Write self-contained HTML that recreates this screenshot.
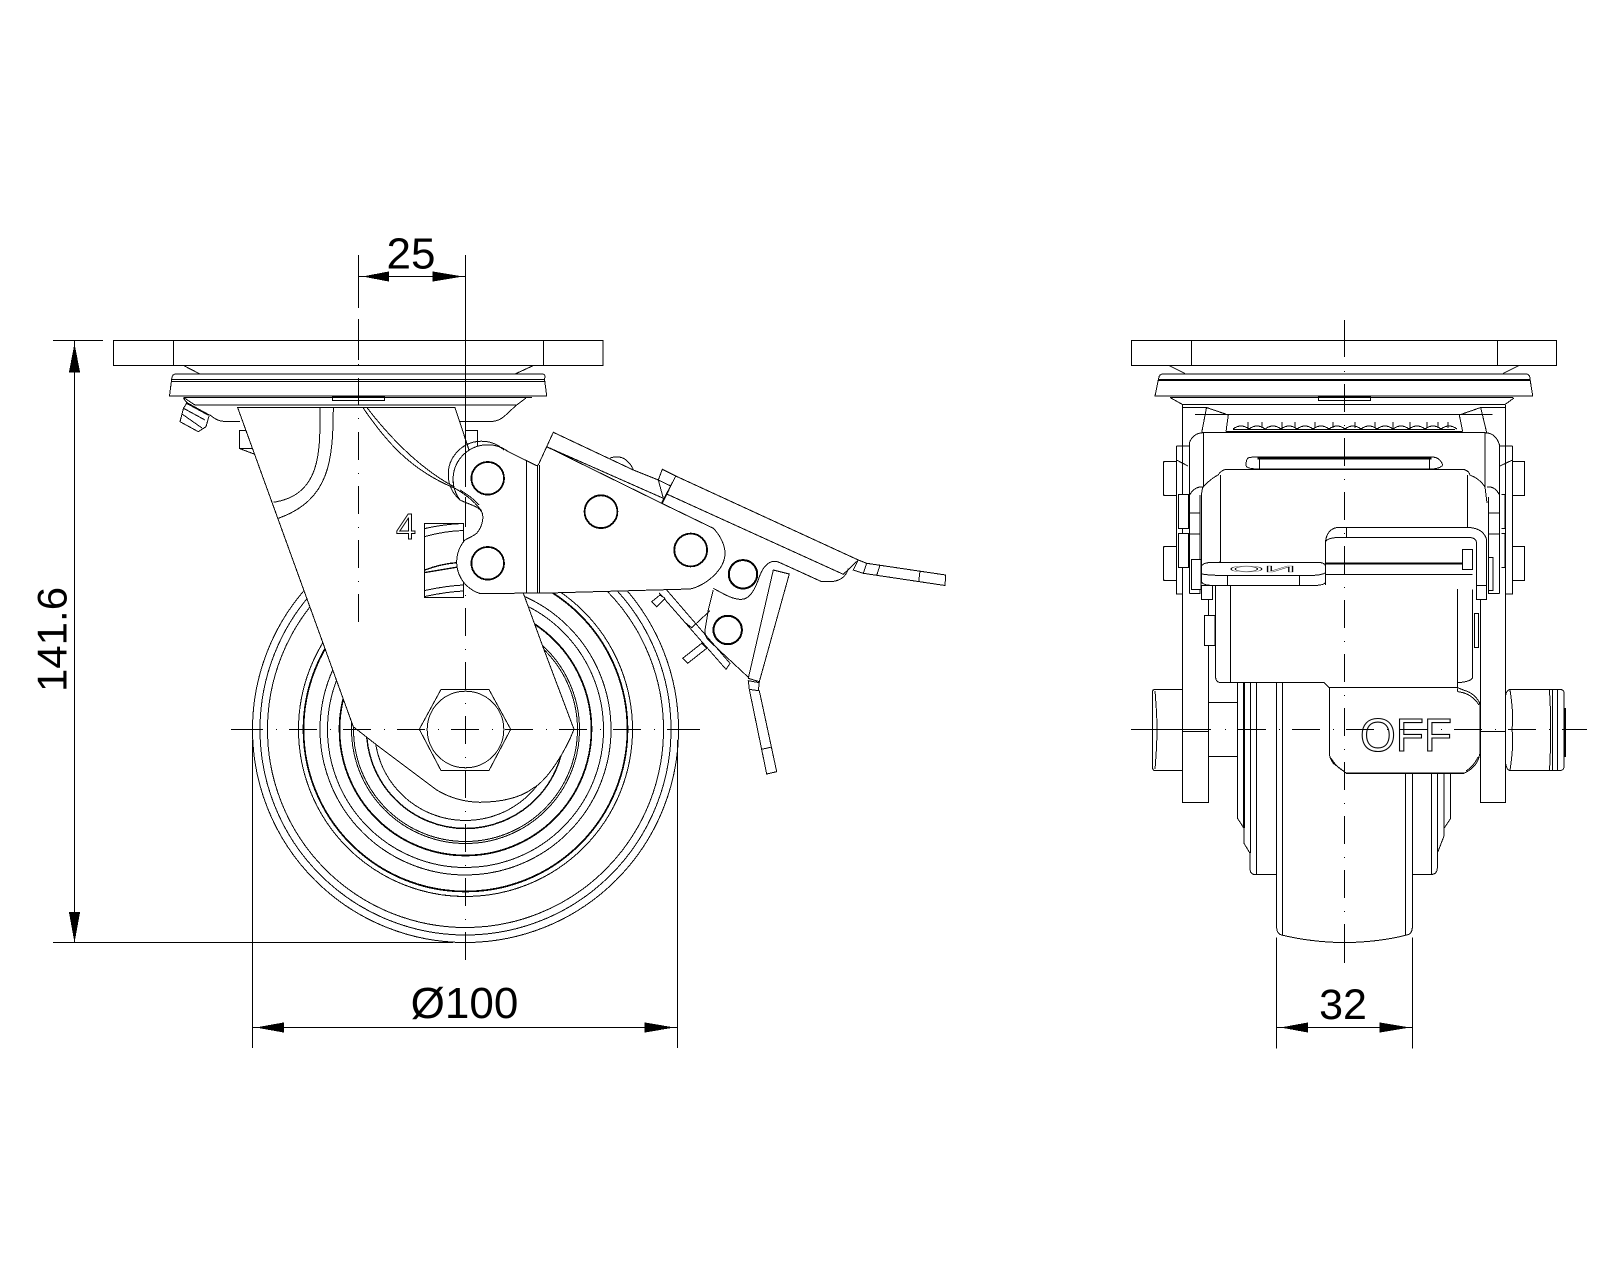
<!DOCTYPE html>
<html>
<head>
<meta charset="utf-8">
<style>
html,body{margin:0;padding:0;background:#fff;}
svg{display:block;}
text{font-family:"Liberation Sans",sans-serif;fill:#000;}
.d{stroke-dasharray:28 13 1 12;}
</style>
</head>
<body>
<svg width="1600" height="1280" viewBox="0 0 1600 1280" xmlns="http://www.w3.org/2000/svg" fill="none" stroke="#000" stroke-width="1" shape-rendering="crispEdges">

<!-- ===== LEFT VIEW ===== -->
<!-- wheel -->
<g>
<circle cx="465.5" cy="729.5" r="213"/><circle cx="465.5" cy="729.5" r="205.5"/><circle cx="465.5" cy="729.5" r="198"/>
<circle cx="465.5" cy="729.5" r="167"/><circle cx="465.5" cy="729.5" r="162" stroke-width="1.7"/>
<circle cx="465.5" cy="729.5" r="145.5"/><circle cx="465.5" cy="729.5" r="138"/>
<circle cx="465.5" cy="729.5" r="126" stroke-width="1.7"/><circle cx="465.5" cy="729.5" r="114"/><circle cx="465.5" cy="729.5" r="112"/>
<circle cx="465.5" cy="729.5" r="99" stroke-width="1.4"/><circle cx="465.5" cy="729.5" r="91"/>
</g>
<!-- lower brake lever -->
<path d="M666.7,590 L730,663.3 L726,669.3 L659,592.7"/>
<path d="M651.7,601.7 L656.7,606.7 L665,598.3 L660,595 Z" fill="#fff"/>
<path d="M686,623.3 L691.7,627.7 L710,610.7"/>
<path d="M682.7,658.3 L687.7,663.3 L706.7,648.3 L701.7,643.3 Z" fill="#fff"/>
<path d="M713.3,590 L708.3,610 L705,630 Q705,637 708.3,640 L748.3,677.3" />
<path d="M773.3,570 L789.3,574 L759.3,681.7 L748.3,678.3 Z" fill="#fff"/>
<path d="M748.3,680.7 L759.3,682.7 L758.3,690.7 L749.3,689.3 Z"/>
<path d="M749.3,689.3 L766.7,774 L776.7,771.7 L759.3,690.7"/>
<path d="M761.7,749.3 L770.7,747.3"/>
<circle cx="727.7" cy="630" r="14.7"/><circle cx="727.7" cy="630" r="13.7"/>

<!-- plate & bearing -->
<rect x="113.5" y="340.5" width="489.5" height="25"/>
<path d="M173.5,340.5 V365.5 M543.5,340.5 V365.5"/>
<path d="M183.5,365.5 L200,374 M533.5,365.5 L515,374"/>
<path d="M169.5,396 L171.7,379 Q172,374 176,374 H542 Q546,374 544.5,379 L546.7,396 Z"/>
<path d="M171.7,379.5 H544.5 M171.5,381.5 H544.7"/>
<path d="M183.5,397.5 H532 M183.5,397.5 L195,405 H516.7 L526,398 M516.7,405 C505,415 502,421.5 490,421.5 H458"/>
<rect x="332.5" y="396.5" width="52" height="4"/>
<path d="M210,415 C216,420 220,421.5 227,421.5 H240"/>
<!-- grease nipple -->
<path d="M183.5,398.5 L187,402.7 L209.3,415 L206,426.7 L198.3,431.7 L180,421.7 L183.5,408.3 L187,402.7" fill="#fff"/>
<path d="M183,408 L205,420 M182,414 L202,428 M186,403 L208,415"/>
<!-- small boxes -->
<rect x="239.5" y="430.5" width="14" height="18"/>
<path d="M239.5,448.5 L254,454"/>
<rect x="465.5" y="430.5" width="12" height="20"/>

<!-- fork -->
<path d="M237.7,407.7 L353.3,726.7 L376.7,745 L436.7,790 C450,798 465,802 480,802.3 C500,802 520,798 533,788.3 C548,780 566,750 574,729.3 L543,647 L524,595 L469,450 L455,407.7 Z" fill="#fff"/>
<path d="M320,407.7 C320,450 322,495 273.3,502.3"/>
<path d="M333.3,407.7 C333,460 330,500 278.3,518.3"/>
<path d="M363,407.7 C385,440 410,470 455,488.3"/>
<path d="M367,407.7 C388,435 420,470 460,490"/>
<!-- 4 and side block -->
<text x="396" y="539" font-size="36" stroke="#000" stroke-width="1" style="fill:#fff;" shape-rendering="auto">4</text>
<rect x="424.5" y="523.5" width="39" height="74" fill="#fff"/>
<path d="M425,528.5 Q445,524 463.5,523.5 M425,536.5 Q445,531 463.5,530.5"/>
<path d="M425,570 Q440,564 458,562.5 M425,572.5 Q440,570 458,567" stroke-width="1.3"/>
<path d="M425,590.5 Q445,586 463.5,585 M425,596.5 Q445,592 463.5,591"/>

<!-- lever plate -->
<path d="M538.3,465 L553.3,432.3 L633.3,470 L658.3,480 L663.3,498.3 L546.7,446.7 Z" fill="#fff"/>
<path d="M610,458 Q620,455 626,460 Q631,464 633.5,470" />
<path d="M662.3,469.3 L675.7,476 L670.7,486 L658.3,480 Z" fill="#fff"/>
<path d="M675.7,476 L858.3,560 L843.3,574.3 L666.7,494 Z" fill="#fff"/>
<path d="M675.7,476 L662.3,503.3"/>
<path d="M673.5,480.5 L660.5,505"/>
<path d="M848.3,568.3 C846,578 838,582 828,581.7 L821.7,581.7 L780,562.7 C772,559 765,563 760,575 C755,590 750,599 741.7,599.3 C733,600 722,593 713.3,588.3"/>
<path d="M858.3,560 L853.3,570 L863.3,573.3 L945,585.5 L945.7,575 L866.7,563.3 Z" fill="#fff"/>
<path d="M866.7,563.3 L863.3,573.3 M880,565 L876.7,575.5 M920,571 L918.7,581.5"/>
<path d="M536.7,465.7 L508.3,451.7 A34.5,34.5 0 0 0 460,500 C470,505 478,506 481.7,511.7 C484,516 483,526 476.7,533.3 C472,537 468,538 465,540 A33,33 0 0 0 480,593.5 L549,593 L690,589 C705,586 725,570 725,553.3 C725,545 720,535 713.3,528.3 L661.7,503.3 L546.7,446.7 L538.3,465 Z" fill="#fff"/>
<path d="M504,450 A33,33 0 0 0 459,499"/>
<path d="M455,488.3 C465,494 475,502 481.7,511"/>
<path d="M460,490 C468,495 474,499 479,505"/>
<path d="M526.7,461 V593 M537.3,465.5 V593 M539.5,465 V593"/>
<circle cx="487.7" cy="478.3" r="16.7"/><circle cx="487.7" cy="478.3" r="15.9"/>
<circle cx="487.7" cy="563.3" r="16.7"/><circle cx="487.7" cy="563.3" r="15.9"/>
<circle cx="601" cy="511.7" r="16.8"/><circle cx="601" cy="511.7" r="16"/>
<circle cx="690.7" cy="550" r="16.8"/><circle cx="690.7" cy="550" r="16"/>
<circle cx="743" cy="574.3" r="14.7"/><circle cx="743" cy="574.3" r="13.7"/>

<!-- axle nut -->
<path d="M419.3,729.3 L441,689.5 H489 L510.7,729.3 L489,770.5 H441 Z" fill="#fff"/>
<circle cx="465.5" cy="729.5" r="38.3"/>

<!-- centre lines left -->
<path d="M358.5,255 V308 M358.5,319 V360 M358.5,364 V365 M358.5,378 V405 M358.5,418 V419"/>
<line x1="358.5" y1="432" x2="358.5" y2="627" class="d"/>
<path d="M465.5,255 V487 M465.5,497 V527 M465.5,595 V596"/>
<line x1="465.5" y1="608" x2="465.5" y2="963" class="d"/>
<path d="M231,729.5 H235"/>
<line x1="235" y1="729.5" x2="700" y2="729.5" class="d"/>
<path d="M695,729.5 H700"/>

<!-- dims left -->
<path d="M53,340.5 H103 M53,942.5 H453 M74.5,340.5 V942.5" stroke-width="1.3"/>
<path d="M74.5,346 L79.5,372 H69.5 Z M74.5,940 L79.5,912.5 H69.5 Z" fill="#000"/>
<path d="M252.5,740 V1048 M677.5,740 V1048 M252.5,1027.5 H677.5" stroke-width="1.2"/>
<path d="M258.5,1027.5 L283.5,1023 V1032 Z M671.5,1027.5 L645,1023 V1032 Z" fill="#000"/>
<path d="M358.5,276.5 H465.5"/>
<path d="M365,276.5 L388.7,272 V281 Z M460,276.5 L433,272 V281 Z" fill="#000"/>
<g stroke="none" shape-rendering="auto">
<text x="411" y="268.5" font-size="44" text-anchor="middle">25</text>
<text x="464.5" y="1018" font-size="44" text-anchor="middle">Ø100</text>
<text x="1343" y="1019" font-size="43" text-anchor="middle">32</text>
<text transform="translate(66.5,639.5) rotate(-90)" font-size="42" text-anchor="middle">141.6</text>
</g>

<!-- ===== RIGHT VIEW ===== -->
<!-- tread -->
<path d="M1276.7,682 V928 Q1277,934 1281.7,935 Q1310,942 1344.3,942.7 Q1380,942 1406.7,935 Q1412,934 1412.3,928 V682"/>
<path d="M1282.5,682 V935 M1405.5,682 V935"/>
<!-- hub -->
<path d="M1237.5,682 V818.3 L1244,828.3 V843.3 L1250,853.3 V868.3 Q1250,874.5 1255,874.5 H1276.7"/>
<path d="M1244,682 V828 " stroke-width="1.6"/>
<path d="M1250.5,682 V853 M1256.5,682 V874"/>
<path d="M1412.3,874.5 H1431.7 Q1437,874 1437.3,868.3 V853.3 L1444,836 V828.3 L1450.7,818.3 V774"/>
<path d="M1431.7,774 V874 M1437.3,774 V853 M1444,774 V836"/>

<!-- plate -->
<rect x="1131.5" y="340.5" width="425" height="25"/>
<path d="M1191.5,340.5 V365.5 M1497.5,340.5 V365.5"/>
<path d="M1169,365.5 L1185,373.5 M1519,365.5 L1503,373.5"/>
<path d="M1155,396 L1158.5,379 Q1159,374 1163,374 H1526 Q1530,374 1530,379 L1532.7,396 Z"/>
<path d="M1158.5,379.5 H1530 M1158.5,380.7 H1530"/>
<path d="M1170,397.5 H1513 M1170,397.5 L1182.5,404.5 H1505 L1514,398"/>
<rect x="1318.5" y="396.5" width="52" height="4"/>

<!-- fork upper -->
<path d="M1182.5,405 V802.5 H1208.5 V593"/>
<path d="M1505.5,405 V802.5 H1480.5 V599"/>
<path d="M1182.5,407.5 H1206.5 L1201.7,432.7 M1206.5,407.5 L1228.3,415 L1226,431.7"/>
<path d="M1505.5,407.5 H1480.7 L1486.7,432.7 M1480.7,407.5 L1459.3,415 L1462.7,431.7"/>
<path d="M1195,414.5 H1492.7"/>
<path d="M1226,431.5 H1462.7"/>
<path d="M1233,429 q8,-6 16,0 q8,-6 16,0 q8,-6 16,0 q8,-6 16,0 q8,-6 16,0 q8,-6 16,0 q8,-6 16,0 q8,-6 16,0 q8,-6 16,0 q8,-6 16,0 q8,-6 16,0 q8,-6 16,0 q8,-6 16,0 q8,-6 16,0"/>
<path d="M1233,429.5 H1455" stroke-width="1"/>
<path d="M1248,422 V428 M1262,422 V428 M1282,422 V428 M1295,422 V428 M1315,422 V428 M1333,422 V428 M1355,422 V428 M1375,422 V428 M1393,422 V428 M1410,422 V428 M1427,422 V428 M1438,422 V428 M1448,422 V428"/>

<!-- housing -->
<path d="M1189.3,593.5 V443 Q1193,433 1203.3,432.7 H1485 Q1496,433 1499.5,445 V593.5" fill="#fff"/>
<path d="M1203.5,432.7 V487 M1485,432.7 V487"/>
<path d="M1248,458 Q1250,457 1257.3,457 H1431.7 Q1440,457 1442.7,465 Q1440,469 1430,469 H1259 Q1246,469 1246,465 Q1246,460 1248,458 Z"/>
<path d="M1257.5,458.3 H1431.7" stroke-width="2"/>
<path d="M1259.5,459 V469 M1429.5,459 V469"/>
<path d="M1201.7,583.5 V493 Q1202,487 1205,485 Q1212,478 1218,475 Q1222,469 1228,469.3 H1460.7 Q1468,469 1470,475 Q1480,479 1485,487 L1487,503"/>
<path d="M1220.5,475 V561.7 L1211,565 M1467.5,475 V527"/>
<path d="M1189.5,495 Q1195,486 1203,487 M1499.5,495 Q1495,486 1487,487"/>
<path d="M1200,495 V593.5 H1189.5 M1488.5,497 V593.5 H1499.5"/>
<path d="M1189.5,513 H1200 M1189.5,534 H1200 M1488.5,513 H1499.5 M1488.5,534 H1499.5"/>

<!-- side columns & nuts -->
<path d="M1176.5,446 H1182.5 M1176.5,446 V594 H1182.5 M1512.5,446 H1505.5 M1512.5,446 V594 H1505.5"/>
<path d="M1182.5,446 H1189.5 V464 M1505.5,446 H1499.5 V464"/>
<path d="M1176.5,460 L1188,466 M1512.5,460 L1500,466"/>
<path d="M1176,461.5 H1165 Q1163.5,461.5 1163.5,463 V494 Q1163.5,495.5 1165,495.5 H1176" stroke-width="1.3"/>
<path d="M1176,546.5 H1165 Q1163.5,546.5 1163.5,548 V579 Q1163.5,580.5 1165,580.5 H1176" stroke-width="1.3"/>
<path d="M1512.5,461.5 H1524.5 V495.5 H1512.5 Z" stroke-width="1.3"/>
<path d="M1512.5,546.5 H1524.5 V580.5 H1512.5 Z" stroke-width="1.3"/>
<rect x="1178.5" y="494.5" width="10" height="34" fill="#fff"/>
<rect x="1178.5" y="533.5" width="10" height="34" fill="#fff"/>
<path d="M1501.5,494.5 H1505 V528.5 H1501.5 M1501.5,533.5 H1505 V567.5 H1501.5"/>

<!-- lower housing -->
<path d="M1215.7,585 V678 Q1216,682 1220,682.5 H1324 L1329.3,688 H1457.3 V682.7 Q1470,682 1472.5,678 V585" fill="#fff"/>
<path d="M1230.5,585 V682.5"/>
<path d="M1457.5,575 V683"/>
<path d="M1480.5,599 V705"/>
<path d="M1208.5,599 V615"/>

<!-- lever ON -->
<path d="M1325.3,585 V545 Q1325.5,530 1336.7,527.5 H1470 Q1484,529 1486.7,540 V590" fill="#fff"/>
<path d="M1325.3,541.7 Q1328,538 1336.7,537.5 H1470 Q1476,538 1476.7,543 V587"/>
<path d="M1346.5,527.5 V537.5"/>
<path d="M1325.5,563.5 H1463" stroke-width="1.8"/>
<path d="M1325.5,574.5 H1472.5"/>
<rect x="1462.5" y="549.5" width="10" height="20" fill="#fff"/>
<path d="M1201.7,566 Q1203,562.5 1212,562.5 H1318 Q1325,562.5 1325.5,566 V582 Q1325,585.5 1312,585.5 H1215 Q1203,585.5 1201.7,582 Z" fill="#fff"/>
<path d="M1202,574 Q1210,575.5 1227.5,575.5 H1312 Q1322,575 1325,573"/>
<path d="M1227.5,575.5 V585.5 M1299.5,575.5 V585.5"/>
<text transform="translate(1229,566) scale(5.6,-1)" font-size="8" style="fill:none;" stroke="#000" stroke-width="0.25" shape-rendering="auto">ON</text>
<rect x="1191.5" y="559.5" width="9.5" height="30" fill="#fff"/>
<rect x="1488.5" y="557.5" width="4.5" height="33" fill="#fff"/>
<rect x="1201.5" y="585.5" width="11" height="14" fill="#fff"/>
<rect x="1476.5" y="585.5" width="10" height="14" fill="#fff"/>
<rect x="1204.5" y="615.5" width="10.5" height="30" fill="#fff"/>
<rect x="1474.5" y="613.5" width="4" height="34" fill="#fff"/>

<!-- bolt -->
<path d="M1182.5,689.5 H1155 Q1152.5,689.5 1152.5,692 V767 Q1152.5,770.5 1155,770.5 H1182.5"/>
<path d="M1155,691 Q1157,715 1157,729 Q1157,745 1155,769" />
<path d="M1182.5,731.5 H1208.5 M1208.5,702.5 H1237.5 M1208.5,756.5 H1237.5"/>
<path d="M1505.7,731.5 H1480.5"/>
<path d="M1505.7,695 Q1507,689.5 1510,689.5 H1560 Q1564,689.5 1564,693 V766 Q1564,770.5 1560,770.5 H1510 Q1507,770.5 1505.7,764 Z" fill="#fff"/>
<path d="M1510,690 Q1514,715 1512,729 Q1514,745 1510,770"/>
<path d="M1549.5,690 Q1552,729 1549.5,770 M1552.5,690 V770 M1557.5,690 V770"/>
<path d="M1565,708 V757" stroke-width="1.6"/>

<!-- OFF plate -->
<path d="M1329.3,687.5 H1457.3 L1463.3,690 Q1470,692 1473.3,695 Q1480,701 1480,705 V753.3 Q1478,762 1475,765 Q1470,771 1463.3,773.5 H1346.7 L1333.3,763.3 Q1329.5,758 1329.3,753.3 Z" fill="#fff"/>
<path d="M1331,758 Q1336,767 1345,772 M1478,757 Q1474,766 1466,771 M1346,773 H1464"/>
<path d="M1458,688 Q1456,692 1460,692 Q1472,694 1479,705"/>
<text x="1360" y="751" font-size="46" style="fill:#fff;" stroke="#000" stroke-width="1.1" shape-rendering="auto">OFF</text>

<!-- centre lines right -->
<path d="M1344.5,320 V357 M1344.5,371 V372"/>
<line x1="1344.5" y1="384" x2="1344.5" y2="952" class="d"/>
<path d="M1344.5,924 V963"/>
<path d="M1131,729.5 H1211 M1225,729.5 H1226"/>
<line x1="1238" y1="729.5" x2="1587" y2="729.5" class="d"/>
<path d="M1562,729.5 H1587"/>

<!-- dim right -->
<path d="M1276.7,937.5 V1048.5 M1412.5,937.5 V1048.5 M1276.7,1027.5 H1412.5"/>
<path d="M1283.3,1027.5 L1307.7,1023 V1032 Z M1406.7,1027.5 L1380,1023 V1032 Z" fill="#000"/>
</svg>
</body>
</html>
